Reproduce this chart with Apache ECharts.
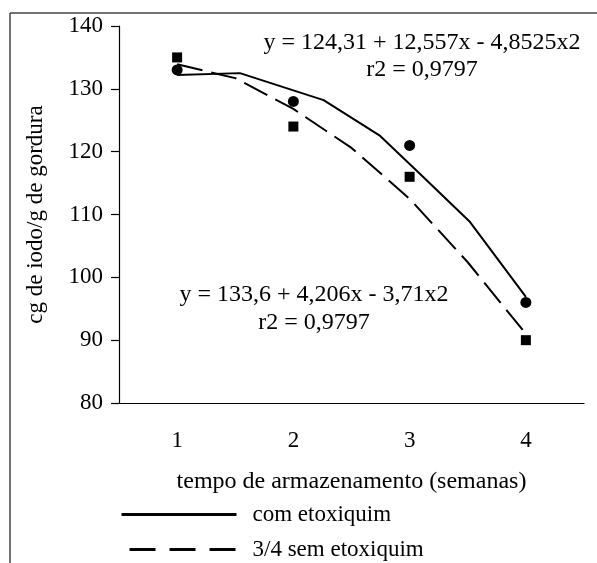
<!DOCTYPE html>
<html>
<head>
<meta charset="utf-8">
<script src="https://cdn.jsdelivr.net/npm/echarts@6/dist/echarts.min.js"></script>
<style>
  html, body { margin: 0; padding: 0; background: #fff; }
  #chart { width: 597px; height: 563px; }
</style>
</head>
<body>
<div id="chart"></div>
<script>
// semanas
const weeks = ['1', '2', '3', '4']
// pontos observados
const comPoints = [133, 128, 121, 96]
const semPoints = [135, 124, 116, 90]
// curvas ajustadas
const comCurveX = [1, 1.54, 2.26, 2.74, 3.07, 3.52, 4]
const comCurveY = [132.2, 132.5, 128.2, 122.6, 116.8, 108.8, 96.9]
const semCurveX = [1, 1.5, 2, 2.5, 3, 3.5, 4]
const semCurveY = [133.9, 131.7, 126.8, 120.6, 112.5, 102.4, 91]
const yTicks = { min: 80, max: 140, interval: 10 }

const font = 'Liberation Serif'
const chart = echarts.init(document.getElementById('chart'))

const toXY = (xs, ys) => xs.map((x, i) => [x, ys[i]])

// uma legenda por linha
const legendBase = {
  left: 120,
  padding: 0,
  itemWidth: 115,
  itemHeight: 1,
  textStyle: { color: '#000', fontSize: 23, fontFamily: font, padding: [0, 0, 0, 11] }
}

const option = {
  animation: false,
  backgroundColor: '#fff',
  textStyle: { fontFamily: font, color: '#000' },
  grid: { left: 119, right: 13, top: 26, bottom: 160 },
  xAxis: [
    {
      type: 'category',
      data: weeks,
      boundaryGap: true,
      axisLine: { lineStyle: { color: '#000', width: 1.2 } },
      axisTick: { length: 8, lineStyle: { color: '#000', width: 1.2 } },
      axisLabel: { color: '#000', fontSize: 23, fontFamily: font, margin: 26 },
      name: 'tempo de armazenamento (semanas)',
      nameLocation: 'middle',
      nameGap: 67,
      nameTextStyle: { color: '#000', fontSize: 24, fontFamily: font }
    },
    {
      type: 'value',
      min: 0.5,
      max: 4.5,
      show: false
    }
  ],
  yAxis: {
    type: 'value',
    min: yTicks.min,
    max: yTicks.max,
    interval: yTicks.interval,
    splitLine: { show: false },
    axisLine: { show: true, lineStyle: { color: '#000', width: 1.2 } },
    axisTick: { show: true, length: 8, lineStyle: { color: '#000', width: 1.2 } },
    axisLabel: { color: '#000', fontSize: 23, fontFamily: font, margin: 16 },
    name: 'cg de iodo/g de gordura',
    nameLocation: 'middle',
    nameGap: 72,
    nameTextStyle: { color: '#000', fontSize: 23, fontFamily: font }
  },
  legend: [
    Object.assign({}, legendBase, {
      top: 503,
      data: [{ name: 'com etoxiquim', lineStyle: { width: 3 } }]
    }),
    Object.assign({}, legendBase, {
      top: 538,
      data: [{ name: '3/4 sem etoxiquim', lineStyle: { width: 3, type: [26, 14], dashOffset: 32 } }]
    })
  ],
  graphic: [
    { type: 'line', shape: { x1: 10, y1: 13, x2: 597, y2: 13 }, style: { stroke: '#444', lineWidth: 1.5 } },
    { type: 'line', shape: { x1: 10, y1: 13, x2: 10, y2: 563 }, style: { stroke: '#444', lineWidth: 1.5 } },
    {
      type: 'text',
      x: 422,
      y: 29,
      style: {
        text: 'y = 124,31 + 12,557x - 4,8525x2\nr2 = 0,9797',
        font: '24px "' + font + '"', fill: '#000', align: 'center', verticalAlign: 'top', lineHeight: 27
      }
    },
    {
      type: 'text',
      x: 314,
      y: 281,
      style: {
        text: 'y = 133,6 + 4,206x - 3,71x2\nr2 = 0,9797',
        font: '24px "' + font + '"', fill: '#000', align: 'center', verticalAlign: 'top', lineHeight: 28
      }
    }
  ],
  series: [
    {
      name: 'com etoxiquim',
      type: 'line',
      xAxisIndex: 1,
      data: toXY(comCurveX, comCurveY),
      symbol: 'none',
      lineStyle: { color: '#000', width: 2 },
      itemStyle: { color: '#000' }
    },
    {
      name: '3/4 sem etoxiquim',
      type: 'line',
      xAxisIndex: 1,
      data: toXY(semCurveX, semCurveY),
      symbol: 'none',
      lineStyle: { color: '#000', width: 2, type: [26, 9] },
      itemStyle: { color: '#000' }
    },
    {
      name: 'com pontos',
      type: 'scatter',
      xAxisIndex: 1,
      data: comPoints.map((v, i) => [i + 1, v]),
      symbol: 'circle',
      symbolSize: 11,
      itemStyle: { color: '#000', opacity: 1 }
    },
    {
      name: 'sem pontos',
      type: 'scatter',
      xAxisIndex: 1,
      data: semPoints.map((v, i) => [i + 1, v]),
      symbol: 'rect',
      symbolSize: 10,
      itemStyle: { color: '#000', opacity: 1 }
    }
  ]
}

chart.setOption(option)
</script>
</body>
</html>
